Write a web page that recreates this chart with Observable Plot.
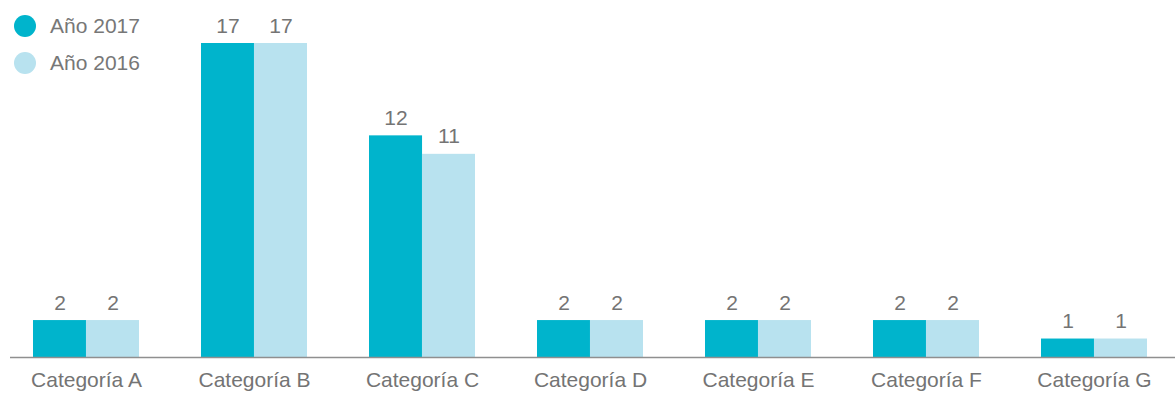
<!DOCTYPE html>
<html>
<head>
<meta charset="utf-8">
<script src="https://cdn.jsdelivr.net/npm/d3@7"></script>
<script src="https://cdn.jsdelivr.net/npm/@observablehq/plot@0.6"></script>
<style>
  html, body { margin: 0; padding: 0; background: #fff; }
  #wrap { position: relative; width: 1175px; height: 393px; font-family: "Liberation Sans", Arial, sans-serif; }
  #legend { position: absolute; left: 0; top: 0; }
  .item { position: absolute; left: 14px; display: flex; align-items: center; white-space: nowrap; }
  .sw { width: 22px; height: 22px; border-radius: 50%; margin-right: 14px; }
  .lab { font-size: 21px; color: #777; }
</style>
</head>
<body>
<div id="wrap">
  <div id="chart"></div>
  <div id="legend"></div>
</div>
<script>
const categories = ["Categoría A", "Categoría B", "Categoría C", "Categoría D", "Categoría E", "Categoría F", "Categoría G"];
const values2017 = [2, 17, 12, 2, 2, 2, 1];
const values2016 = [2, 17, 11, 2, 2, 2, 1];
const seriesNames = ["Año 2017", "Año 2016"];
const seriesColors = ["#00b4cc", "#b8e2ef"];

const data2017 = categories.map((c, i) => ({category: c, value: values2017[i]}));
const data2016 = categories.map((c, i) => ({category: c, value: values2016[i]}));

const W = 1175, H = 393;
const ml = 10, mr = 0;
const pIn = 0.37, pOut = 0.15;
const step = (W - ml - mr) / (categories.length - pIn + 2 * pOut);
const half = step * (1 - pIn) / 2;
const textColor = "#747474";

const chart = Plot.plot({
  width: W,
  height: H,
  marginLeft: ml,
  marginRight: mr,
  marginTop: 43,
  marginBottom: 36,
  style: {fontFamily: "'Liberation Sans', Arial, sans-serif", background: "#fff"},
  x: {domain: categories, paddingInner: pIn, paddingOuter: pOut, align: 0.44, label: null},
  y: {domain: [0, 17], axis: null},
  marks: [
    Plot.barY(data2017, {x: "category", y: "value", fill: seriesColors[0], insetRight: half}),
    Plot.barY(data2016, {x: "category", y: "value", fill: seriesColors[1], insetLeft: half}),
    Plot.text(data2017, {x: "category", y: "value", text: d => String(d.value), dx: -half / 2, dy: -11, lineAnchor: "bottom", fontSize: 21, fill: textColor}),
    Plot.text(data2016, {x: "category", y: "value", text: d => String(d.value), dx: half / 2, dy: -11, lineAnchor: "bottom", fontSize: 21, fill: textColor}),
    Plot.ruleY([0], {stroke: "#8f8f8f", strokeWidth: 1.5}),
    Plot.axisX({tickSize: 0, tickPadding: 15, fontSize: 21, color: textColor, label: null})
  ]
});
document.getElementById("chart").appendChild(chart);

const legend = document.getElementById("legend");
const tops = [14, 51];
seriesNames.forEach((name, i) => {
  const item = document.createElement("div");
  item.className = "item";
  item.style.top = tops[i] + "px";
  item.innerHTML = `<div class="sw" style="background:${seriesColors[i]}"></div><span class="lab">${name}</span>`;
  legend.appendChild(item);
});
</script>
</body>
</html>
